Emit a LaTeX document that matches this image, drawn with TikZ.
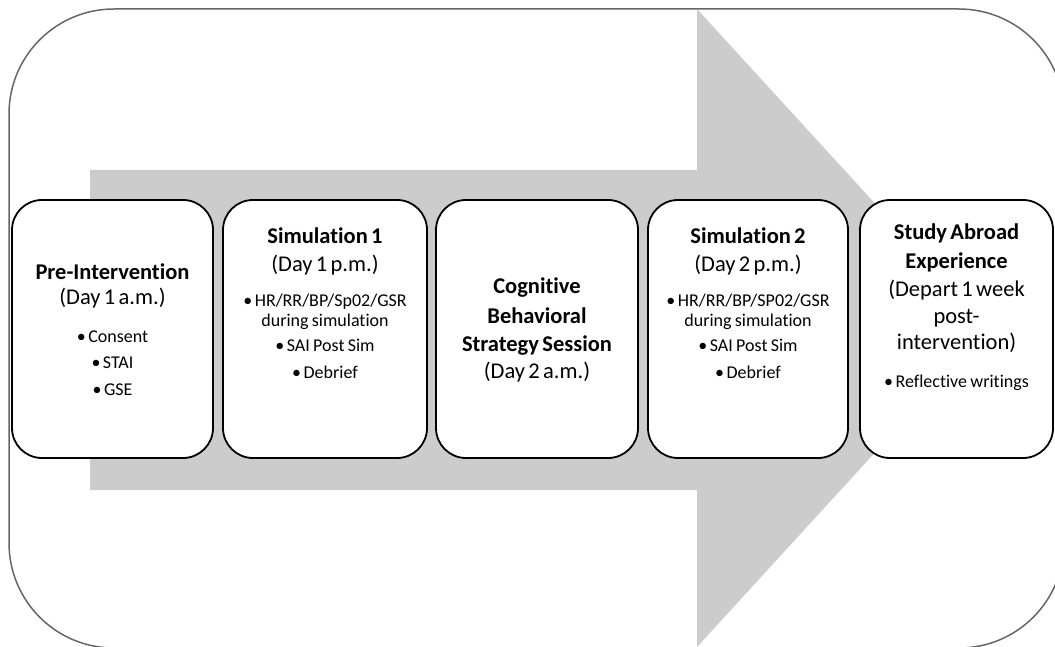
\documentclass[tikz,border=0pt]{standalone}
\usepackage{fontspec}
\setmainfont{Carlito}[Ligatures=NoCommon]
\newcommand\txtline[3]{{\fontsize{#1}{#2}\selectfont #3\par}}
\newcommand\ttlb[2]{\txtline{22.5}{#1}{\bfseries #2}}
\newcommand\ttlr[2]{\txtline{22.5}{#1}{#2}}
\newcommand\bodyl[2]{\txtline{18}{#1}{#2}}
\newcommand\bul{•\hspace{2.5pt}}
\begin{document}
\begin{tikzpicture}[x=1pt,y=-1pt,
  stagebox/.style={draw=black, line width=1.8pt, fill=white, rounded corners=30pt,
    minimum height=258pt, inner sep=0pt},
  stagetext/.style={anchor=north, inner sep=0pt, text width=196pt, align=center}]
\useasboundingbox (0,0) rectangle (1055,647);
\clip (0,0) rectangle (1055,647);
% big grey arrow
\fill[black!20] (90,170) -- (697,170) -- (697,9) -- (989,328) -- (697,647)
  -- (697,490) -- (90,490) -- cycle;
% outer frame
\draw[line width=1.5pt, black!60, rounded corners=105pt] (9,9) rectangle (1064,648);
% stage boxes
\node[stagebox, minimum width=201pt] (b1) at (112.5,329) {};
\node[stagebox, minimum width=204pt] (b2) at (325,329) {};
\node[stagebox, minimum width=202pt] (b3) at (537,329) {};
\node[stagebox, minimum width=200pt] (b4) at (748,329) {};
\node[stagebox, minimum width=193pt] (b5) at (956.5,329) {};
% texts
\node[stagetext] (t1) at (112.5,264) {%
  \ttlb{27}{Pre-Intervention}
  \ttlr{25}{(Day 1 a.m.)}
  \bodyl{38}{\bul Consent}
  \bodyl{26}{\bul STAI}
  \bodyl{27}{\bul GSE}};
\node[stagetext] (t2) at (325,228) {%
  \ttlb{27}{Simulation 1}
  \ttlr{28}{(Day 1 p.m.)}
  \bodyl{35}{\bul HR/RR/BP/Sp02/GSR}
  \bodyl{20}{during simulation}
  \bodyl{25}{\bul SAI Post Sim}
  \bodyl{27}{\bul Debrief}};
\node[stagetext] (t3) at (537,278) {%
  \ttlb{27}{Cognitive}
  \ttlb{30}{Behavioral}
  \ttlb{28}{Strategy Session}
  \ttlr{27}{(Day 2 a.m.)}};
\node[stagetext] (t4) at (748,228) {%
  \ttlb{27}{Simulation 2}
  \ttlr{28}{(Day 2 p.m.)}
  \bodyl{35}{\bul HR/RR/BP/SP02/GSR}
  \bodyl{20}{during simulation}
  \bodyl{25}{\bul SAI Post Sim}
  \bodyl{27}{\bul Debrief}};
\node[stagetext] (t5) at (956.5,224) {%
  \ttlb{27}{Study Abroad}
  \ttlb{29}{Experience}
  \ttlr{28}{(Depart 1 week}
  \ttlr{27}{post-}
  \ttlr{26}{intervention)}
  \bodyl{38}{\bul Reflective writings}};
\end{tikzpicture}
\end{document}
